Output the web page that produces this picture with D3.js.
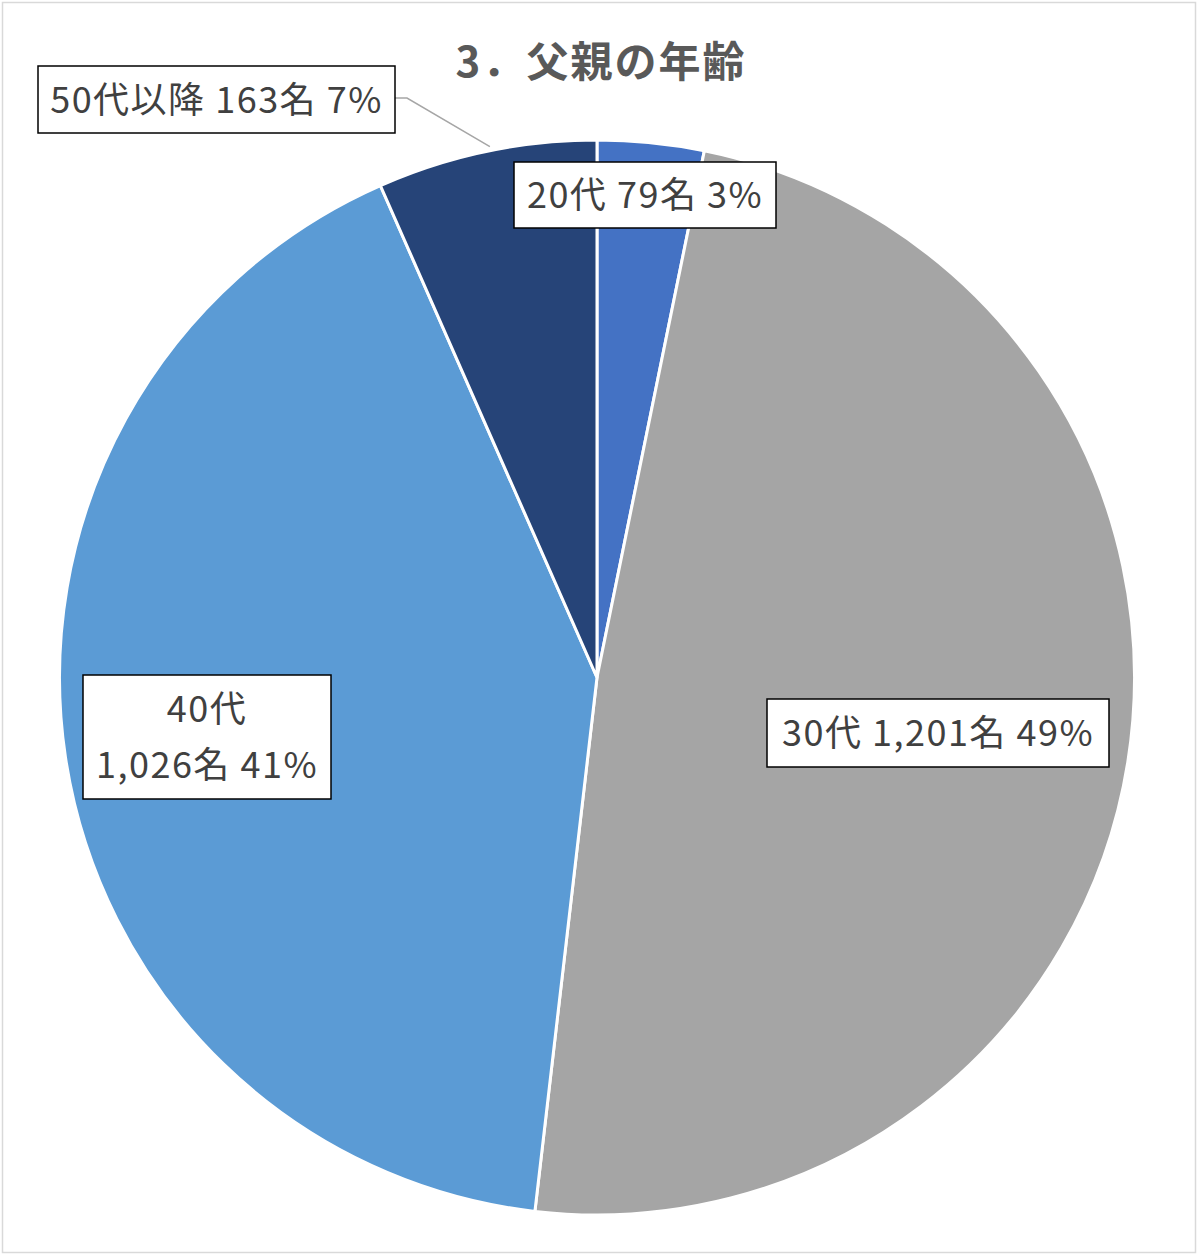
<!DOCTYPE html>
<html><head><meta charset="utf-8">
<script src="https://cdn.jsdelivr.net/npm/d3@7"></script>
<style>html,body{margin:0;padding:0;background:#fff;}</style>
</head><body>
<svg id="c" width="1200" height="1257"></svg>
<script>
const categories = ["20代", "30代", "40代", "50代以降"];
const counts = [79, 1201, 1026, 163];
const percents = ["3%", "49%", "41%", "7%"];
const colors = ["#4472C4", "#A5A5A5", "#5B9BD5", "#264478"];
const title = "3．父親の年齢";

const svg = d3.select("#c");
const font = "'Noto Sans CJK JP','Noto Sans',sans-serif";
svg.append("rect").attr("x",2.5).attr("y",2.5).attr("width",1193).attr("height",1250)
  .attr("fill","#fff").attr("stroke","#d9d9d9").attr("stroke-width",1.5);

svg.append("text").attr("x",601).attr("y",77).attr("text-anchor","middle")
  .attr("font-family",font).attr("font-weight","bold").attr("font-size",42)
  .attr("letter-spacing",2)
  .attr("fill","#595959").text(title);

const cx = 597, cy = 677.5, r = 537.5;
const data = categories.map((c,i)=>({cat:c,count:counts[i],pct:percents[i],color:colors[i]}));
const pie = d3.pie().value(d=>d.count).sort(null);
const arc = d3.arc().innerRadius(0).outerRadius(r);
const g = svg.append("g").attr("transform",`translate(${cx},${cy})`);
const arcs = pie(data);
g.selectAll("path").data(arcs).enter().append("path")
  .attr("d",arc).attr("fill",d=>d.data.color).attr("stroke","#fff").attr("stroke-width",3);

const fmt = d3.format(",");
const boxes = [
  {b:[514,162,262,66], lines:[d=>`${d.cat} ${fmt(d.count)}名 ${d.pct}`]},
  {b:[767,699,342,68], lines:[d=>`${d.cat} ${fmt(d.count)}名 ${d.pct}`]},
  {b:[83,675,248,124], lines:[d=>d.cat, d=>`${fmt(d.count)}名 ${d.pct}`]},
  {b:[38,66,357,67], lines:[d=>`${d.cat} ${fmt(d.count)}名 ${d.pct}`]}
];

// leader line for 50代以降
const a50 = arcs[3];
const la = a50.startAngle + (a50.endAngle - a50.startAngle)*0.52;
svg.append("polyline")
  .attr("points",`395,98 407,98 ${cx + (r+4)*Math.sin(la)},${cy - (r+4)*Math.cos(la)}`)
  .attr("fill","none").attr("stroke","#a6a6a6").attr("stroke-width",1.5);

data.forEach((d,i)=>{
  const [x,y,w,h] = boxes[i].b;
  svg.append("rect").attr("x",x).attr("y",y).attr("width",w).attr("height",h)
    .attr("fill","#fff").attr("stroke","#000").attr("stroke-width",1.5);
  const n = boxes[i].lines.length;
  boxes[i].lines.forEach((fn,j)=>{
    const lh = 56;
    const ty = y + h/2 + (j - (n-1)/2)*lh + 13;
    svg.append("text").attr("x",x+w/2).attr("y",ty).attr("text-anchor","middle")
      .attr("font-family",font).attr("font-size",36).attr("letter-spacing",1.5)
      .attr("fill","#404040").text(fn(d));
  });
});
</script>
</body></html>
